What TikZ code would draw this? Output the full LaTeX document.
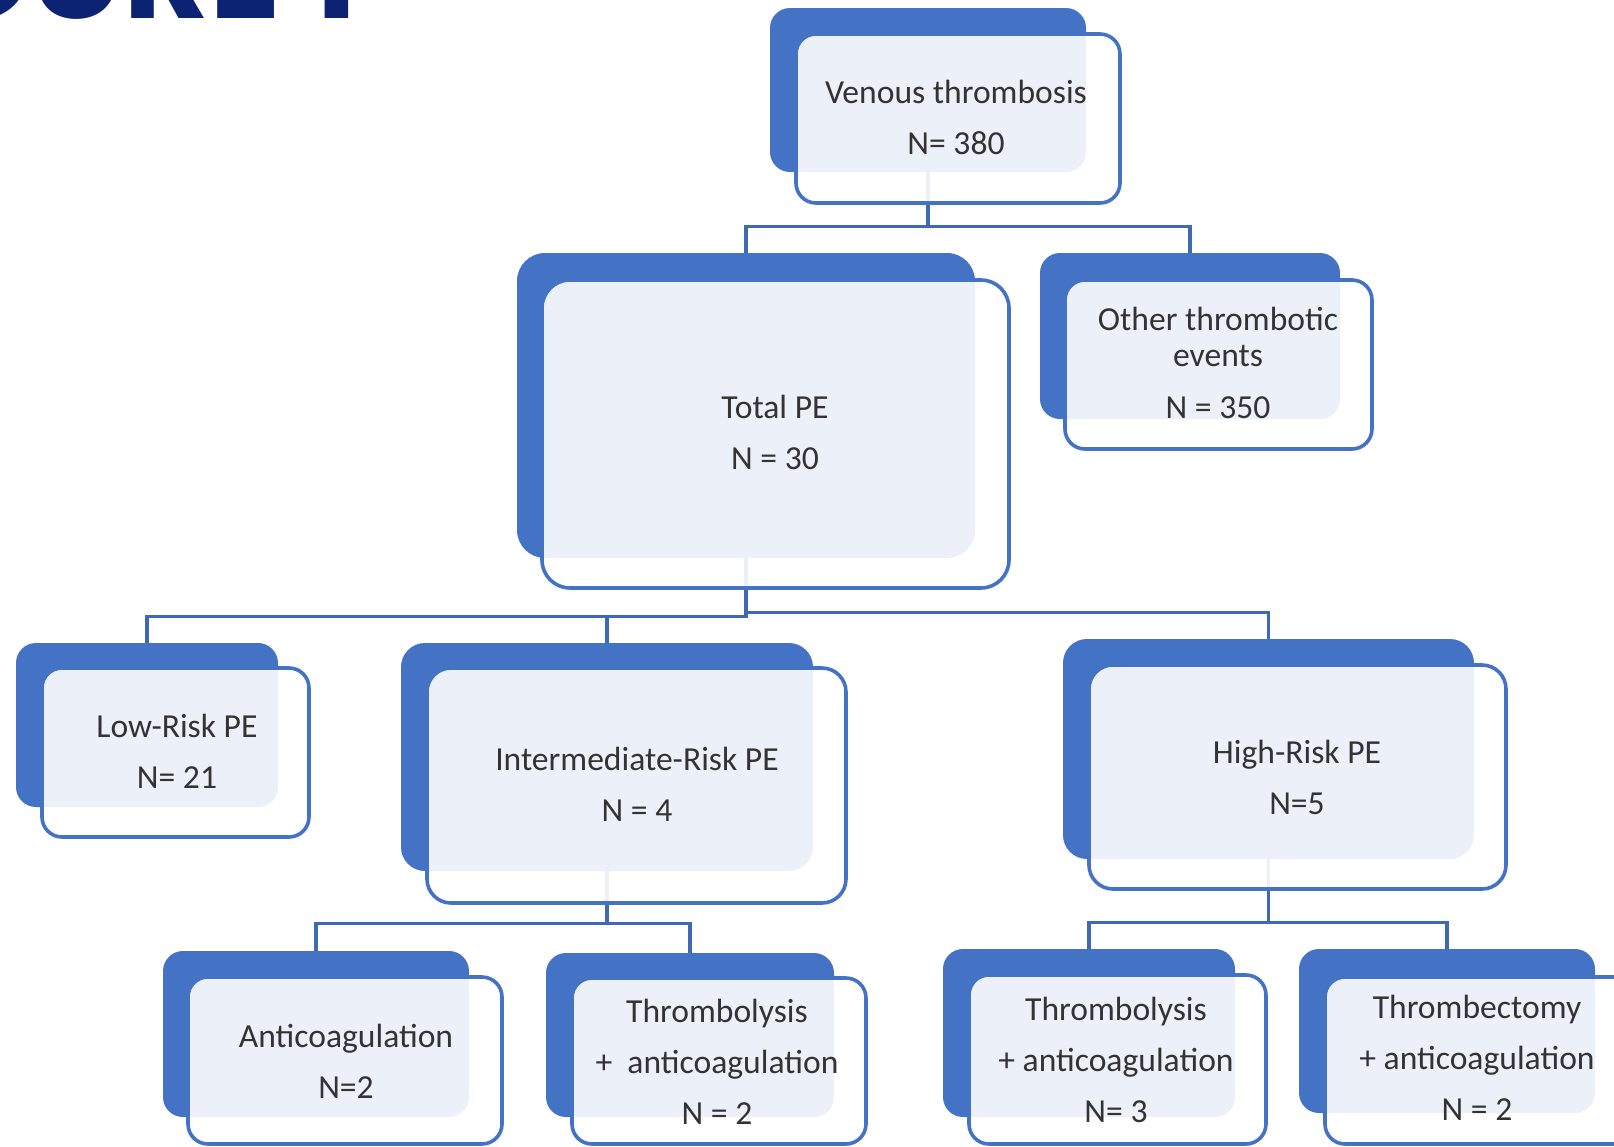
\documentclass[tikz,border=0pt]{standalone}
\usepackage{fontspec}
\setmainfont{Carlito}
\newfontfamily\titlefont{Poppins}
\usetikzlibrary{fit,backgrounds}
\definecolor{bblue}{HTML}{4472C4}
\definecolor{cblue}{HTML}{3F69B5}
\definecolor{navy}{HTML}{0C2272}
\definecolor{txt}{HTML}{333333}
\tikzset{
  backbox/.style={inner sep=0pt, rounded corners=10pt, fill=bblue},
  frontbox/.style={inner sep=0pt, rounded corners=10pt, draw=bblue, line width=1.8pt, fill=white, fill opacity=0.9},
  lbl/.style={align=center, text=txt, font=\fontsize{16.8}{25.5}\selectfont, inner sep=0pt},
  conn/.style={draw=cblue, line width=1.6pt},
}
\begin{document}
\begin{tikzpicture}[x=0.5pt,y=-0.5pt]
\useasboundingbox (0,0) rectangle (1614,1147);
\clip (0,0) rectangle (1614,1147);
\node[font=\titlefont\bfseries\fontsize{66}{66}\selectfont, text=navy, anchor=base east, inner sep=0pt] (title) at (359,18) {FIGURE 1};
% Venous thrombosis
\node[backbox, fit={(770,8)(1086,172)}] (vt) {};
\node[frontbox, fit={(796,34)(1120,203)}] (vtf) {};
\node[lbl] (vtt) at (956,117) {Venous thrombosis\\N= 380};
% Total PE
\node[backbox, rounded corners=14pt, fit={(517,253)(975,558)}] (tpe) {};
\node[frontbox, rounded corners=14pt, fit={(542,280)(1009,588)}] (tpef) {};
\node[lbl] (tpet) at (775,432) {Total PE\\N = 30};
% Other
\node[backbox, fit={(1040,253)(1340,419)}] (oth) {};
\node[frontbox, fit={(1065,280)(1372,449)}] (othf) {};
\node[lbl, font=\fontsize{16.8}{18}\selectfont] (otht) at (1218,337) {Other thrombotic\\events};
\node[lbl] (othn) at (1218,408) {N = 350};
% Low risk
\node[backbox, fit={(16,643)(278,807)}] (low) {};
\node[frontbox, fit={(42,668)(309,837)}] (lowf) {};
\node[lbl] (lowt) at (177,751) {Low-Risk PE\\N= 21};
% Intermediate
\node[backbox, rounded corners=12pt, fit={(401,643)(813,871)}] (int) {};
\node[frontbox, rounded corners=12pt, fit={(427,668)(846,903)}] (intf) {};
\node[lbl] (intt) at (637,784) {Intermediate-Risk PE\\N = 4};
% High
\node[backbox, rounded corners=12pt, fit={(1063,639)(1474,859)}] (high) {};
\node[frontbox, rounded corners=12pt, fit={(1089,665)(1506,889)}] (highf) {};
\node[lbl] (hight) at (1297,777) {High-Risk PE\\N=5};
% Anticoagulation
\node[backbox, fit={(163,951)(469,1117)}] (ac) {};
\node[frontbox, fit={(188,977)(502,1144)}] (acf) {};
\node[lbl] (act) at (346,1061) {Anticoagulation\\N=2};
% Thrombolysis left
\node[backbox, fit={(546,953)(834,1117)}] (tl1) {};
\node[frontbox, fit={(572,978)(866,1144)}] (tl1f) {};
\node[lbl] (tl1t) at (717,1062) {Thrombolysis\\+\ \ anticoagulation\\N = 2};
% Thrombolysis right
\node[backbox, fit={(943,949)(1235,1117)}] (tl2) {};
\node[frontbox, fit={(969,975)(1266,1144)}] (tl2f) {};
\node[lbl] (tl2t) at (1116,1060) {Thrombolysis\\+ anticoagulation\\N= 3};
% Thrombectomy
\node[backbox, fit={(1299,949)(1595,1113)}] (te) {};
\node[frontbox, fit={(1325,977)(1640,1144)}] (tef) {};
\node[lbl] (tet) at (1477,1058) {Thrombectomy\\+ anticoagulation\\N = 2};
% connectors
\begin{pgfonlayer}{background}
\draw[conn] (vt.south) -- ++(0,54) -| (tpe.north);
\draw[conn] (vt.south) -- ++(0,54) -| (oth.north);
\draw[conn] (tpe.south) -- ++(0,58) -| (low.north);
\draw[conn] (tpe.south) -- ++(0,58) -| (int.north);
\draw[conn] (tpe.south) -- ++(0,54) -| (high.north);
\draw[conn] (int.south) -- ++(0,52) -| (ac.north);
\draw[conn] (int.south) -- ++(0,52) -| (tl1.north);
\draw[conn] (high.south) -- ++(0,63) -| (tl2.north);
\draw[conn] (high.south) -- ++(0,63) -| (te.north);
\end{pgfonlayer}
\end{tikzpicture}
\end{document}
